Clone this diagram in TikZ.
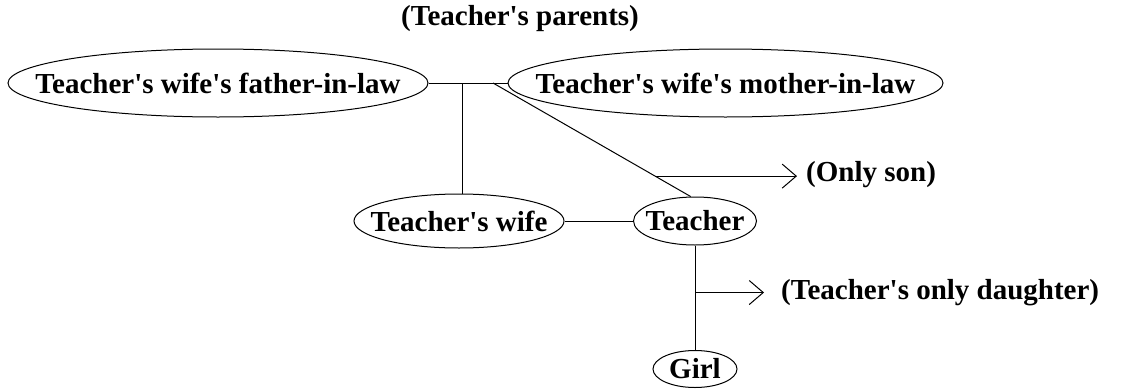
\documentclass[tikz,border=0pt]{standalone}
\usepackage{fontspec}
\setmainfont{Liberation Serif}
\usetikzlibrary{arrows.meta,positioning,shapes.geometric}
\newcommand{\apos}{\textquotesingle}
\newcommand{\who}[1]{\makebox[0pt]{#1}}

\begin{document}
\begin{tikzpicture}[
    x=1pt, y=-1pt,
    font=\fontsize{29}{34}\selectfont\bfseries,
    person/.style={draw, ellipse, inner sep=0pt, line width=1pt},
    note/.style={inner sep=0pt, anchor=west},
    link/.style={line width=1pt},
    arrow/.style={-{Straight Barb[length=14pt, width=24pt]}, line width=1pt}
]
\useasboundingbox (0,0) rectangle (1121,391);
\node[inner sep=0pt] (parents) at (520,19) {(Teacher\apos{}s parents)};
\node[person, minimum width=420pt, minimum height=68pt] (father) at (218,83) {\who{Teacher\apos{}s wife\apos{}s father-in-law}};
\node[person, minimum width=435pt, minimum height=68pt, right=79pt of father] (mother) {\who{Teacher\apos{}s wife\apos{}s mother-in-law}};
\node[person, minimum width=210pt, minimum height=54pt] (wife) at (459,221) {\who{Teacher\apos{}s wife}};
\node[person, minimum width=123pt, minimum height=48pt] (teacher) at (695,221) {\who{Teacher}};
\node[person, minimum width=84pt, minimum height=37pt] (girl) at (695,369) {\who{Girl}};
\node[note] (son) at (806,175) {(Only son)};
\node[note] (daughter) at (781,293) {(Teacher\apos{}s only daughter)};
\coordinate (jv) at (462,83);
\coordinate (jd) at (493,83);
\draw[link] (father.east) -- (mother.west);
\draw[link] (jv) -- (jv |- wife.north);
\draw[link] (jd) -- coordinate[pos=0.82] (sonfork) (teacher.100);
\draw[link] (wife.east) -- (teacher.west);
\draw[link] (teacher.south) -- coordinate[pos=0.45] (dfork) (girl.north);
\draw[arrow, shorten >=9pt] (sonfork) -- (sonfork -| son.west);
\draw[arrow, shorten >=17pt] (dfork) -- (dfork -| daughter.west);
\end{tikzpicture}
\end{document}
